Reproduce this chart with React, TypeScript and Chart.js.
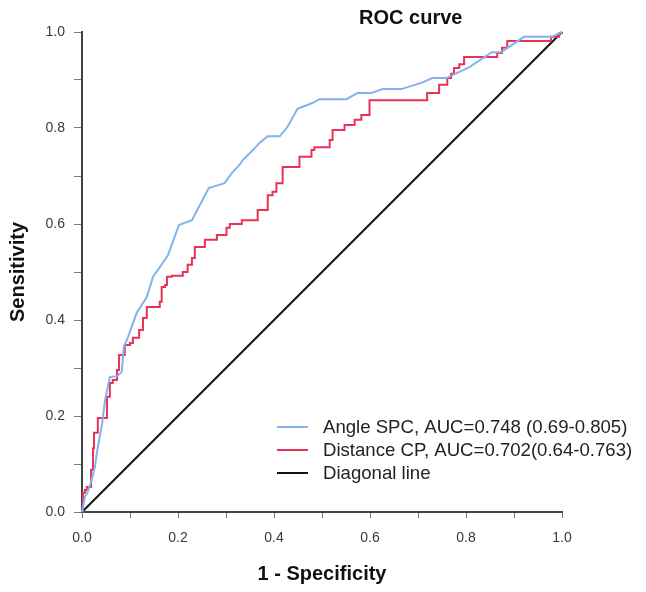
import { useEffect, useRef } from "react";
import { Chart, registerables } from "chart.js";

Chart.register(...registerables);

// ROC points: false positive rate (1 - specificity) vs sensitivity
const ANGLE_FPR = [
  0, 0.006, 0.012, 0.019, 0.027, 0.031, 0.033, 0.042, 0.048, 0.058, 0.073, 0.083,
  0.087, 0.096, 0.114, 0.135, 0.148, 0.162, 0.179, 0.202, 0.229, 0.264, 0.297, 0.312,
  0.328, 0.335, 0.356, 0.37, 0.387, 0.412, 0.428, 0.449, 0.48, 0.495, 0.551, 0.574,
  0.603, 0.626, 0.665, 0.707, 0.73, 0.759, 0.807, 0.854, 0.873, 0.921, 0.979, 1,
];
const ANGLE_TPR = [
  0, 0.031, 0.042, 0.063, 0.094, 0.123, 0.135, 0.185, 0.233, 0.281, 0.283, 0.292,
  0.344, 0.365, 0.415, 0.448, 0.49, 0.51, 0.535, 0.598, 0.608, 0.675, 0.685, 0.706,
  0.723, 0.733, 0.754, 0.769, 0.783, 0.783, 0.802, 0.84, 0.852, 0.86, 0.86, 0.873,
  0.873, 0.881, 0.881, 0.894, 0.904, 0.904, 0.927, 0.958, 0.958, 0.99, 0.99, 1,
];

const DISTANCE_FPR = [
  0, 0.002, 0.006, 0.01, 0.019, 0.023, 0.025, 0.033, 0.052, 0.058, 0.064, 0.073,
  0.077, 0.089, 0.1, 0.106, 0.119, 0.127, 0.135, 0.162, 0.166, 0.173, 0.177, 0.187,
  0.21, 0.22, 0.229, 0.235, 0.256, 0.281, 0.301, 0.308, 0.333, 0.366, 0.387, 0.397,
  0.405, 0.418, 0.453, 0.478, 0.484, 0.516, 0.522, 0.547, 0.568, 0.582, 0.599, 0.719,
  0.744, 0.761, 0.769, 0.775, 0.786, 0.796, 0.865, 0.875, 0.886, 0.977, 0.994, 1,
];
const DISTANCE_TPR = [
  0, 0.04, 0.046, 0.052, 0.088, 0.133, 0.165, 0.196, 0.24, 0.269, 0.275, 0.296,
  0.327, 0.348, 0.352, 0.363, 0.379, 0.404, 0.427, 0.438, 0.469, 0.473, 0.49, 0.492,
  0.5, 0.515, 0.529, 0.552, 0.567, 0.577, 0.592, 0.6, 0.608, 0.629, 0.66, 0.667,
  0.685, 0.719, 0.74, 0.754, 0.76, 0.775, 0.796, 0.806, 0.817, 0.827, 0.858, 0.873,
  0.89, 0.904, 0.913, 0.925, 0.933, 0.948, 0.956, 0.967, 0.981, 0.99, 0.998, 1,
];

const DIAGONAL_X = [0, 1];
const DIAGONAL_Y = [0, 1];

const SERIES_LABELS = [
  "Angle SPC, AUC=0.748 (0.69-0.805)",
  "Distance CP, AUC=0.702(0.64-0.763)",
  "Diagonal line",
];

const FONT = "'Liberation Sans', Arial, sans-serif";
const BLUE = "#82b3ee";
const RED = "#e83258";

const toPoints = (xs: number[], ys: number[]) => xs.map((x, i) => ({ x, y: ys[i] }));

// Title sits right of centre in the original, so it's drawn by hand
const titlePlugin = {
  id: "rocTitle",
  afterDraw(chart: Chart) {
    const { ctx, chartArea } = chart;
    ctx.save();
    ctx.font = `bold 20px ${FONT}`;
    ctx.fillStyle = "#111";
    ctx.textAlign = "center";
    ctx.textBaseline = "middle";
    ctx.fillText("ROC curve", chartArea.left + chartArea.width * 0.685, chartArea.top - 14);
    ctx.restore();
  },
};

// Legend box inside the plot, lower right, overflowing past the axis end
const legendPlugin = {
  id: "rocLegend",
  afterDraw(chart: Chart) {
    const { ctx, chartArea } = chart;
    ctx.save();
    ctx.font = `18.6px ${FONT}`;
    ctx.textBaseline = "middle";
    chart.data.datasets.forEach((ds: any, i: number) => {
      const y = chartArea.bottom - 85 + i * 23;
      const x0 = chartArea.left + 195;
      ctx.strokeStyle = ds.borderColor;
      ctx.lineWidth = 2;
      ctx.beginPath();
      ctx.moveTo(x0, y);
      ctx.lineTo(x0 + 31, y);
      ctx.stroke();
      ctx.fillStyle = "#222";
      ctx.fillText(ds.label, x0 + 46, y + 1);
    });
    ctx.restore();
  },
};

export default function App() {
  const canvasRef = useRef<HTMLCanvasElement>(null);

  useEffect(() => {
    document.body.style.margin = "0";
    if (!canvasRef.current) return;

    const tickLabel = (v: number | string) => {
      const n = Number(v);
      return Math.round(n * 10) % 2 === 0 ? n.toFixed(1) : "";
    };

    const chart = new Chart(canvasRef.current, {
      type: "line",
      data: {
        datasets: [
          {
            label: SERIES_LABELS[0],
            data: toPoints(ANGLE_FPR, ANGLE_TPR),
            borderColor: BLUE,
            borderWidth: 2,
            pointRadius: 0,
            tension: 0,
            clip: 4,
          },
          {
            label: SERIES_LABELS[1],
            data: toPoints(DISTANCE_FPR, DISTANCE_TPR),
            borderColor: RED,
            borderWidth: 2,
            pointRadius: 0,
            stepped: "before",
            clip: 4,
          },
          {
            label: SERIES_LABELS[2],
            data: toPoints(DIAGONAL_X, DIAGONAL_Y),
            borderColor: "#111",
            borderWidth: 2,
            pointRadius: 0,
            clip: 4,
          },
        ],
      },
      options: {
        animation: false,
        responsive: true,
        maintainAspectRatio: false,
        layout: { padding: { left: 0, top: 32, right: 84, bottom: 0 } },
        plugins: {
          legend: { display: false },
          tooltip: { enabled: false },
        },
        scales: {
          x: {
            type: "linear",
            min: 0,
            max: 1,
            afterFit: (scale: any) => {
              scale.height = 80;
            },
            border: { display: true, color: "#444", width: 2 },
            grid: { drawOnChartArea: false, drawTicks: true, tickLength: 6, color: "#777" },
            ticks: {
              stepSize: 0.1,
              autoSkip: false,
              maxRotation: 0,
              padding: 12,
              color: "#3a3a3a",
              font: { family: FONT, size: 14 },
              callback: tickLabel,
            },
            title: {
              display: true,
              text: "1 - Specificity",
              color: "#111",
              font: { family: FONT, size: 20, weight: "bold" },
              padding: { top: 0, bottom: 6 },
            },
          },
          y: {
            type: "linear",
            min: 0,
            max: 1,
            afterFit: (scale: any) => {
              scale.width = 82;
            },
            border: { display: true, color: "#444", width: 2 },
            grid: { drawOnChartArea: false, drawTicks: true, tickLength: 8, color: "#777" },
            ticks: {
              stepSize: 0.1,
              autoSkip: false,
              padding: 9,
              color: "#3a3a3a",
              font: { family: FONT, size: 14 },
              callback: tickLabel,
            },
            title: {
              display: true,
              text: "Sensitivity",
              color: "#111",
              font: { family: FONT, size: 20, weight: "bold" },
              padding: { top: 6, bottom: 0 },
            },
          },
        },
      },
      plugins: [titlePlugin, legendPlugin],
    });

    return () => {
      chart.destroy();
    };
  }, []);

  return (
    <div style={{ position: "relative", width: 646, height: 592, background: "#fff" }}>
      <canvas ref={canvasRef}></canvas>
    </div>
  );
}
